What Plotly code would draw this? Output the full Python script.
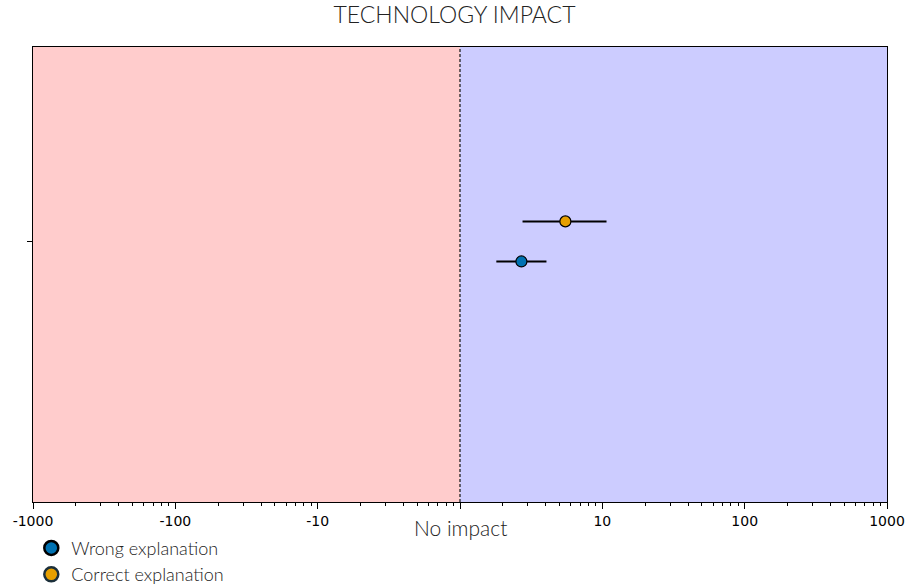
import plotly.graph_objects as go

# Effect estimates on a ratio scale (1 = no impact) with interval bounds
series_names = ["Wrong explanation", "Correct explanation"]
series_colors = ["#0072B2", "#E69F00"]
legend_edge = ["#000000", "#1b2f3a"]
point_est = [2.7, 5.5]
ci_low = [1.8, 2.75]
ci_high = [4.05, 10.7]
row_pos = [-0.1, 0.1]

major_vals = [0.001, 0.01, 0.1, 1, 10, 100, 1000]
major_text = ["-1000", "-100", "-10", "", "10", "100", "1000"]

minor_vals = [k * 10.0 ** n for n in range(-3, 3) for k in range(2, 10)]

fig = go.Figure()
for name, col, est, lo, hi, yp in zip(series_names, series_colors, point_est,
                                       ci_low, ci_high, row_pos):
    fig.add_trace(go.Scatter(
        x=[est], y=[yp], mode="markers", name=name, showlegend=False,
        marker=dict(size=11, color=col, line=dict(color="black", width=1.2)),
        error_x=dict(type="data", symmetric=False, array=[hi - est],
                     arrayminus=[est - lo], color="black", thickness=2, width=0),
    ))

# legend entries drawn with larger outlined markers
for name, col, edge in zip(series_names, series_colors, legend_edge):
    fig.add_trace(go.Scatter(
        x=[None], y=[None], mode="markers", name=name,
        marker=dict(size=14, color=col, line=dict(color=edge, width=2.5)),
    ))

x_min, x_mid, x_max = major_vals[0], major_vals[3], major_vals[-1]
fig.add_shape(type="rect", xref="x", yref="paper", x0=x_min, x1=x_mid, y0=0, y1=1,
              fillcolor="#FFCCCC", line_width=0, layer="below")
fig.add_shape(type="rect", xref="x", yref="paper", x0=x_mid, x1=x_max, y0=0, y1=1,
              fillcolor="#CCCCFF", line_width=0, layer="below")
fig.add_shape(type="line", xref="x", yref="paper", x0=x_mid, x1=x_mid, y0=0, y1=1,
              line=dict(color="#222222", width=1.3, dash="3px,2px"))

fig.add_annotation(x=0, y=0, xref="x", yref="paper", text="No impact",
                   showarrow=False, yanchor="middle", yshift=-25,
                   font=dict(family="Lato", size=21, color="#222", weight=300))

fig.update_layout(
    width=909, height=586,
    margin=dict(l=33, r=22, t=47, b=84, autoexpand=False),
    paper_bgcolor="white", plot_bgcolor="white",
    title=dict(text="TECHNOLOGY IMPACT", x=0.5, xanchor="center",
               y=1 - 15 / 586, yanchor="middle",
               font=dict(family="Lato", size=23, color="#222", weight=300)),
    xaxis=dict(type="log", range=[-3, 3], tickmode="array",
               tickvals=major_vals, ticktext=major_text,
               ticks="outside", ticklen=6, tickwidth=1, tickcolor="black",
               showline=True, linecolor="black", linewidth=1, mirror=True,
               showgrid=False, zeroline=False,
               tickfont=dict(family="DejaVu Sans", size=14, color="black"),
               minor=dict(tickmode="array", tickvals=minor_vals,
                          ticks="outside", ticklen=3, tickcolor="black",
                          showgrid=False)),
    yaxis=dict(range=[-1.3, 0.97], tickmode="array", tickvals=[0], ticktext=[""],
               ticks="outside", ticklen=5, tickcolor="black",
               showline=True, linecolor="black", linewidth=1, mirror=True,
               showgrid=False, zeroline=False),
    legend=dict(x=-0.002, y=-0.061, xanchor="left", yanchor="top",
                bgcolor="rgba(0,0,0,0)", tracegroupgap=0,
                font=dict(family="Lato", size=18, color="#222", weight=300)),
    showlegend=True,
)

fig.write_html("out.html")
